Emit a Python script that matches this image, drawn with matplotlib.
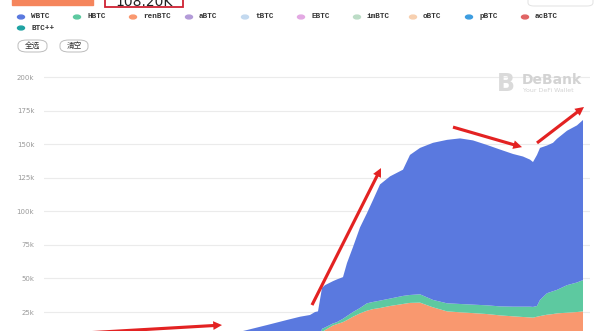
import matplotlib.pyplot as plt
from matplotlib.patches import FancyBboxPatch, Rectangle
from matplotlib.ticker import FuncFormatter

# day index since the start of the chart
days = [0, 40, 80, 120, 150, 170, 187, 207, 227, 240, 250, 255, 258, 262, 265,
        273, 277, 283, 287, 293, 300, 307, 313, 320, 330, 343, 350, 360, 373,
        387, 400, 413, 427, 440, 453, 463, 470, 473, 477, 480, 487, 493, 497,
        507, 517, 523]

# locked value in USD
wbtc = [600, 1000, 1800, 3500, 6000, 8500, 11600, 15300, 19100, 21500, 22800,
        25000, 25500, 30500, 31500, 31500, 31800, 31000, 39500, 48400, 60000,
        67200, 75900, 86500, 91000, 94000, 104300, 109000, 117000, 121700,
        123300, 122300, 119400, 116800, 113700, 111800, 109500, 107900,
        112500, 113200, 110000, 110500, 112500, 115000, 117000, 119200]
hbtc = [0, 0, 0, 0, 0, 0, 0, 0, 0, 0, 0, 0, 0, 2500, 2000, 1500, 1500, 2500,
        3000, 3500, 4000, 5500, 5300, 5500, 5500, 6000, 5900, 6200, 5500, 6000,
        6200, 6300, 6500, 6700, 7200, 7700, 8000, 8000, 8000, 12000, 16000,
        17000, 17500, 20500, 22000, 23300]
renbtc = [0, 0, 0, 0, 0, 0, 0, 0, 0, 0, 0, 0, 0, 10000, 11500, 15000, 16000,
          17500, 19000, 21500, 24000, 26000, 27200, 28000, 29500, 31000, 31800,
          32000, 28500, 25500, 24800, 24200, 23500, 22500, 21800, 21300, 21000,
          20800, 21500, 22000, 23000, 23500, 24000, 24500, 25000, 25500]

tokens = ["WBTC", "HBTC", "renBTC", "aBTC", "tBTC", "EBTC", "imBTC", "oBTC",
          "pBTC", "acBTC", "BTC++"]
token_colors = ["#5a79df", "#5dc9a0", "#f9986f", "#b39bd8", "#c3d9ef",
                "#e3a9e3", "#bcdcc6", "#f7d0b0", "#3d9de0", "#e06464", "#1fa3a3"]

W, H = 600, 331


def fx(px):
    return px / W


def fy(py):
    return (H - py) / H


fig = plt.figure(figsize=(6, 3.31), dpi=100)
fig.patch.set_facecolor("white")

# chart area, bottom part is cut off in the screenshot
ax = fig.add_axes([fx(44), fy(345.6), 546 / W, 275.3 / H])
ax.stackplot(days, renbtc, hbtc, wbtc,
             colors=[token_colors[2], token_colors[1], token_colors[0]],
             linewidth=0)
ax.set_xlim(-16, 530)
ax.set_ylim(0, 205000)
ax.set_yticks(range(25000, 200001, 25000))
ax.yaxis.set_major_formatter(FuncFormatter(lambda v, p: f"{int(v / 1000)}k"))
ax.tick_params(axis="y", length=0, pad=7, labelsize=5, labelcolor="#9a9a9a")
ax.set_xticks([])
ax.grid(axis="y", color="#ebebeb", linewidth=0.8)
ax.set_axisbelow(True)
for s in ax.spines.values():
    s.set_visible(False)

# red annotation arrows
red = "#e32222"
arrows = [((25, 9400), (162, 15300)),
          ((252, 30200), (321, 132200)),
          ((393, 162700), (462, 147800)),
          ((477, 150900), (524, 177700))]
for tail, head in arrows:
    ax.annotate("", xy=head, xytext=tail, annotation_clip=False,
                arrowprops=dict(arrowstyle="simple,head_length=0.7,head_width=0.7,tail_width=0.25",
                                color=red, lw=0, shrinkA=0, shrinkB=0,
                                mutation_scale=9))

# legend rows
for i, (name, c) in enumerate(zip(tokens, token_colors)):
    if i < 10:
        cx, cy = 21 + 56 * i, 17
    else:
        cx, cy = 21, 28
    fig.patches.append(plt.Circle((fx(cx), fy(cy)), 3.5 / W, color=c,
                                  transform=fig.transFigure, figure=fig))
    fig.text(fx(cx + 10), fy(cy), name, fontsize=5.5, family="Liberation Mono",
             weight="bold", color="#333333", va="center")

# buttons
for label, x0, x1 in [("全选", 18, 47), ("清空", 60, 88)]:
    fig.patches.append(FancyBboxPatch((fx(x0), fy(52)), fx(x1 - x0), 12 / H,
                                      boxstyle="round,pad=0,rounding_size=0.015",
                                      transform=fig.transFigure, figure=fig,
                                      facecolor="white", edgecolor="#bdbdbd", lw=0.7))
    fig.text(fx((x0 + x1) / 2), fy(46), label, fontsize=5.5,
             family=["Noto Sans CJK SC", "DejaVu Sans"], color="#333333",
             ha="center", va="center")

# top header pieces (cut off)
fig.patches.append(Rectangle((fx(12), fy(5)), fx(81), 6 / H, color="#f5855c",
                             transform=fig.transFigure, figure=fig))
fig.patches.append(Rectangle((fx(105), fy(6.5)), fx(78), 10 / H, facecolor="white",
                             edgecolor="#cf2233", lw=1.3,
                             transform=fig.transFigure, figure=fig))
fig.text(fx(144), fy(5.5), "108.20K", fontsize=10, color="#222222",
         ha="center", va="baseline")
fig.patches.append(FancyBboxPatch((fx(528), fy(6)), fx(65), 10 / H,
                                  boxstyle="round,pad=0,rounding_size=0.01",
                                  facecolor="white", edgecolor="#e2e2e2", lw=0.7,
                                  transform=fig.transFigure, figure=fig))

# watermark
fig.text(fx(506), fy(84), "B", fontsize=17, weight="bold", color="#dadada",
         ha="center", va="center")
fig.text(fx(522), fy(80), "DeBank", fontsize=10, weight="bold", color="#d3d3d3",
         va="center")
fig.text(fx(523), fy(91), "Your DeFi Wallet", fontsize=4.5, color="#d3d3d3",
         va="center")

fig.savefig("out.png", dpi=100)
